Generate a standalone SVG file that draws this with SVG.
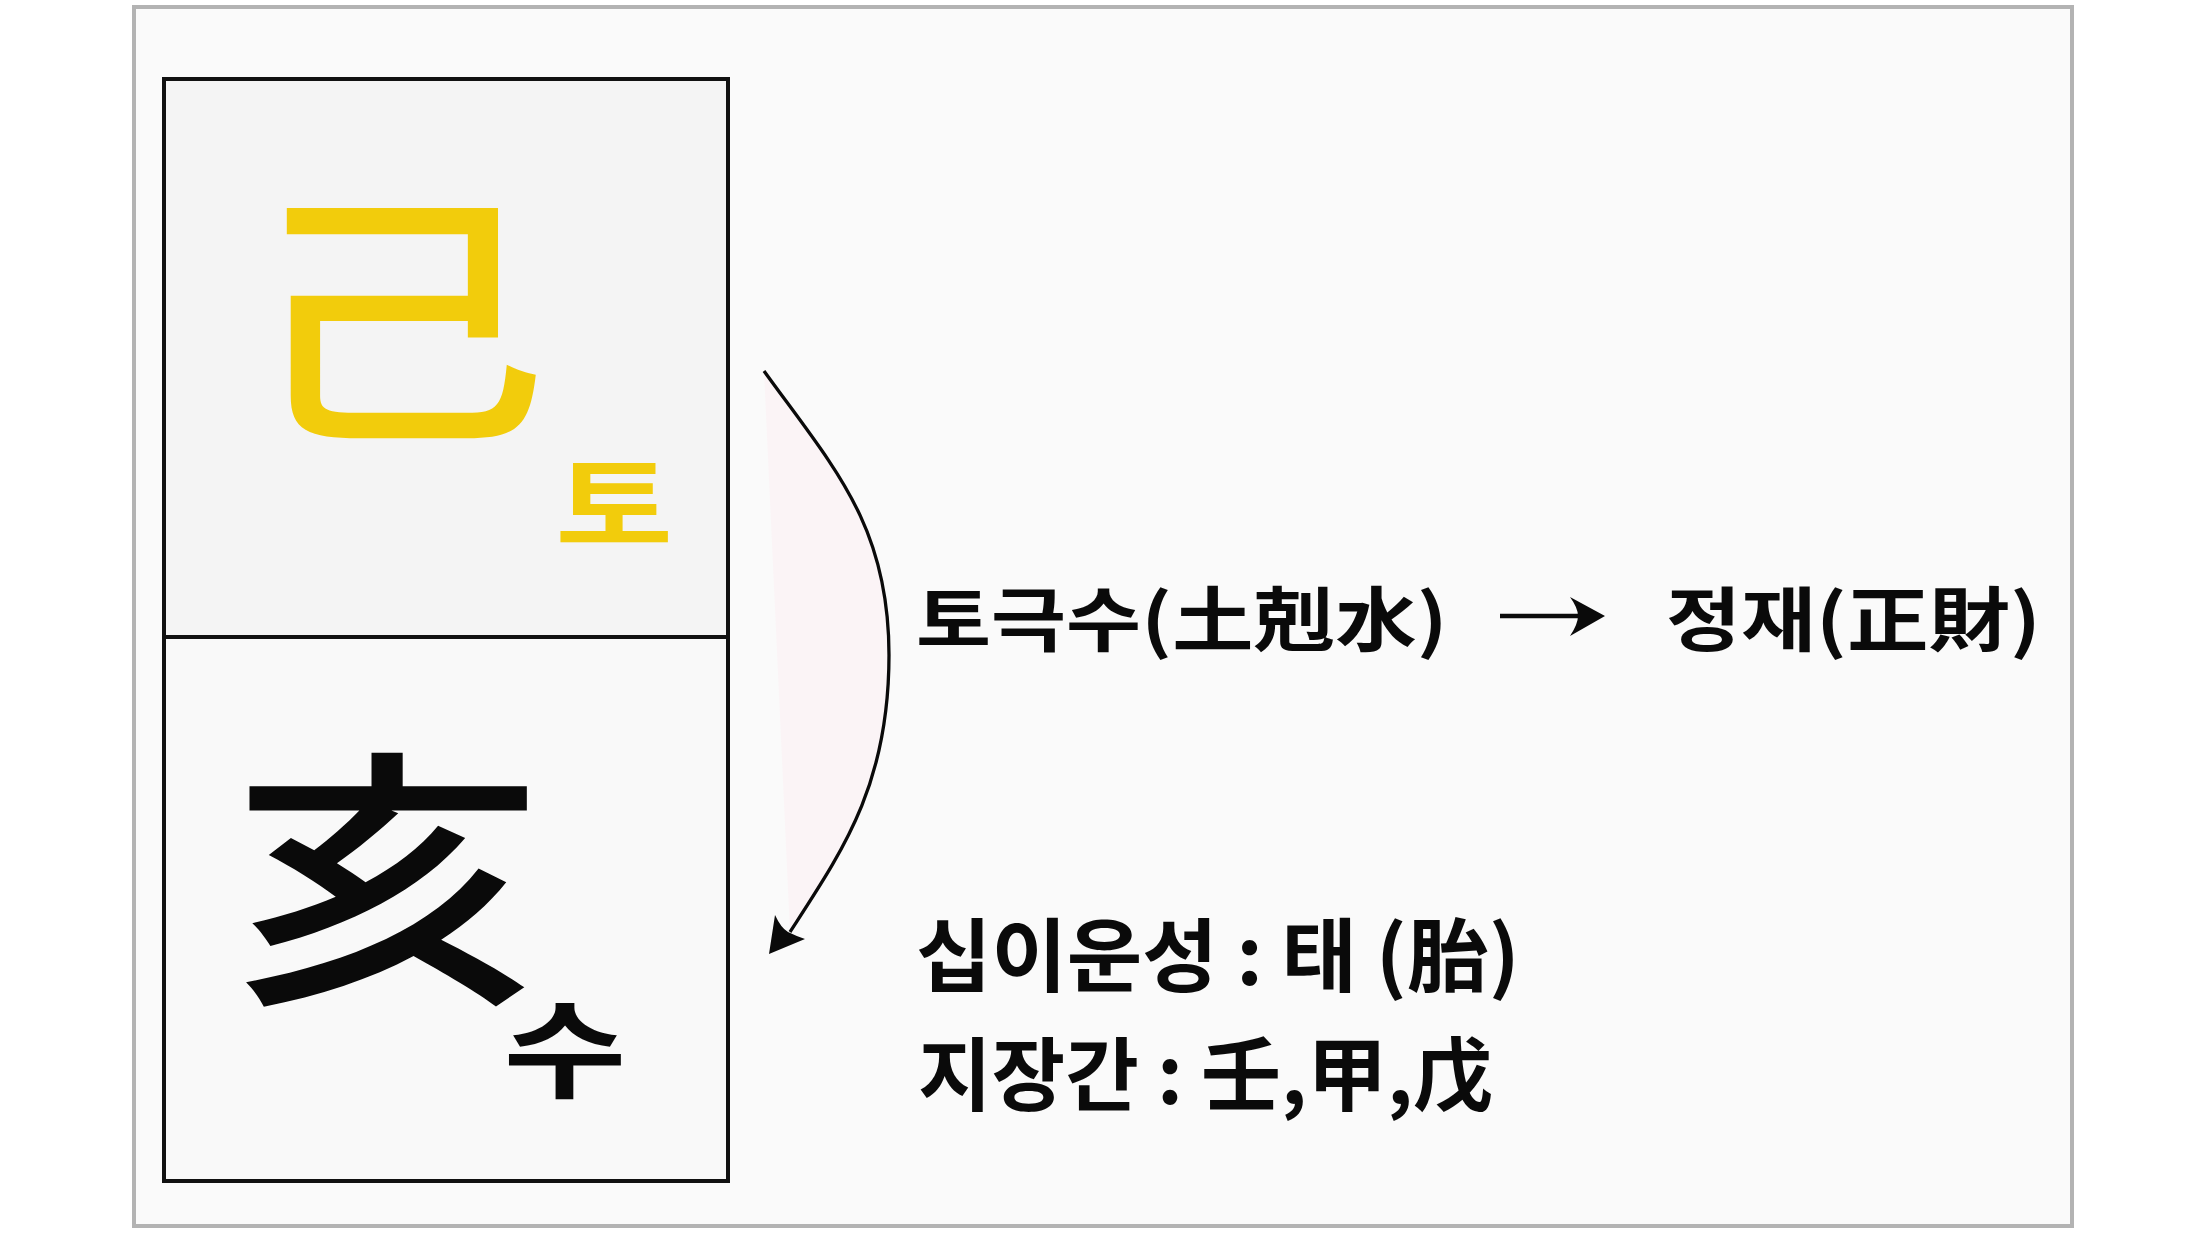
<svg xmlns="http://www.w3.org/2000/svg" width="2204" height="1240" viewBox="0 0 2204 1240">
<style>
.t{font-family:"Noto Sans CJK KR","Noto Sans",sans-serif;font-weight:700;fill:#0a0a0a;font-size:80px}
.big{font-family:"Noto Sans CJK KR","Noto Sans",sans-serif;font-weight:500;text-anchor:middle}
.sm{font-family:"Noto Sans CJK KR","Noto Sans",sans-serif;font-weight:700;text-anchor:middle}
.cell{stroke:#111;stroke-width:4}
</style>
<rect x="0" y="0" width="2204" height="1240" fill="#ffffff"/>
<rect x="134" y="7" width="1938" height="1219" fill="#fafafa" stroke="#b3b3b3" stroke-width="4"/>
<g id="node-gi">
<rect class="cell" x="164" y="79" width="564" height="558" fill="#f4f4f4"/>
<text class="big" transform="translate(396.5,421) scale(1.115,1)" font-size="271" fill="#f2cc0c">己</text>
<text class="sm" transform="translate(614,544) scale(1.23,1)" font-size="104" fill="#f2cc0c">토</text>
</g>
<g id="node-hae">
<rect class="cell" x="164" y="637" width="564" height="544" fill="#f9f9f9"/>
<text class="big" transform="translate(388,983.5) scale(1.14,1)" font-size="273" fill="#0a0a0a">亥</text>
<text class="sm" transform="translate(565,1089) scale(1.26,1)" font-size="106" fill="#0a0a0a">수</text>
</g>
<g id="connectors">
<path d="M764,371 C834,468 889,525 889,655 C889,785 843,850 790,932" fill="#fbf4f6" stroke="#0a0a0a" stroke-width="3.3"/>
<path d="M769,954 L775,915 Q781,928 788,932 Q796,936 805,939 Z" fill="#0a0a0a"/>
<line x1="1500" y1="616" x2="1580" y2="616" stroke="#0a0a0a" stroke-width="4.5"/>
<path d="M1605,616 L1570,597 Q1578,608 1578,616 Q1578,624 1570,636 Z" fill="#0a0a0a"/>
</g>
<g id="labels">
<text class="t" transform="translate(916,646) scale(1.02,0.88)">토극수(土剋水)</text>
<text class="t" transform="translate(1666,646) scale(1.02,0.88)">정재(正財)</text>
<text class="t" transform="translate(916,985) scale(1.025,1)">십이운성 : 태 (胎)</text>
<text class="t" x="918" y="1104">지장간 : 壬,甲,戊</text>
</g>
</svg>
